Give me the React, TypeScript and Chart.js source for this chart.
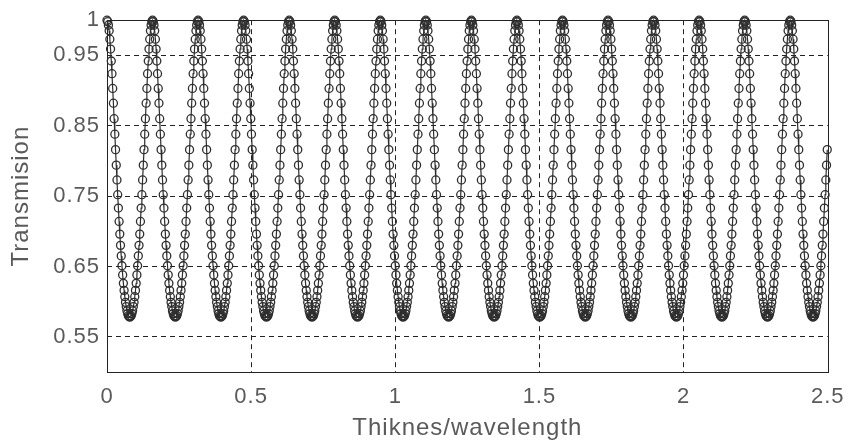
import React, { useEffect, useRef } from "react";
import { Chart, registerables } from "chart.js";

Chart.register(...registerables);

// Axis ticks
const X_TICKS = [0, 0.5, 1, 1.5, 2, 2.5];
const Y_TICKS = [0.55, 0.65, 0.75, 0.85, 0.95, 1];
const X_MIN = 0;
const X_MAX = 2.5;
const Y_MIN = 0.5;
const Y_MAX = 1;

// Fringe spacing read from the peak positions (16 peaks between 0 and 2.5)
const FRINGE_PERIOD = 0.158;
const SAMPLES_PER_PERIOD = 64;
// Transmission over one half fringe, from a peak (1.0) down to the trough (~0.578),
// read from the picture at 1/64-period steps; the second half of each fringe mirrors it.
const HALF_FRINGE_T = [
  1.0, 0.998, 0.993, 0.985, 0.973, 0.959, 0.942, 0.924, 0.903, 0.882, 0.86,
  0.838, 0.816, 0.794, 0.773, 0.752, 0.733, 0.714, 0.696, 0.68, 0.665, 0.651,
  0.638, 0.626, 0.616, 0.607, 0.599, 0.593, 0.587, 0.583, 0.58, 0.579, 0.578,
];

const X_TITLE = "Thiknes/wavelength";
const Y_TITLE = "Transmision";

function buildSeries() {
  const pts: { x: number; y: number }[] = [];
  for (let i = 0; ; i++) {
    const x = (i * FRINGE_PERIOD) / SAMPLES_PER_PERIOD;
    if (x > X_MAX + 1e-9) break;
    const k = i % SAMPLES_PER_PERIOD;
    const idx = k <= SAMPLES_PER_PERIOD / 2 ? k : SAMPLES_PER_PERIOD - k;
    pts.push({ x, y: HALF_FRINGE_T[idx] });
  }
  return pts;
}

const FONT = "'Liberation Sans', Arial, Helvetica, sans-serif";
const TEXT_COLOR = "#5a5a5a";
const LINE_COLOR = "#2e2e2e";
const AXIS_COLOR = "#222";

const spacingPlugin = {
  id: "spacing",
  beforeInit(chart: any) {
    try {
      chart.ctx.letterSpacing = "1px";
    } catch (e) {}
  },
  beforeDraw(chart: any) {
    try {
      chart.ctx.letterSpacing = "1px";
    } catch (e) {}
  },
};

const boxPlugin = {
  id: "box",
  beforeDatasetsDraw(chart: any) {
    const { ctx, chartArea } = chart;
    const { left, top, right, bottom } = chartArea;
    ctx.save();
    ctx.setLineDash([]);
    ctx.strokeStyle = AXIS_COLOR;
    ctx.lineWidth = 1;
    ctx.strokeRect(Math.round(left) + 0.5, Math.round(top) + 0.5, Math.round(right - left), Math.round(bottom - top));
    ctx.restore();
  },
};

export default function App() {
  const ref = useRef<HTMLCanvasElement | null>(null);

  useEffect(() => {
    if (!ref.current) return;
    const data = buildSeries();
    const chart = new Chart(ref.current, {
      type: "line",
      data: {
        datasets: [
          {
            data,
            borderColor: LINE_COLOR,
            borderWidth: 1.2,
            pointRadius: 4,
            pointBorderWidth: 1.3,
            pointBorderColor: LINE_COLOR,
            pointBackgroundColor: "rgba(0,0,0,0)",
            pointStyle: "circle",
            tension: 0,
            clip: false as any,
          },
        ],
      },
      options: {
        responsive: false,
        animation: false,
        devicePixelRatio: 1,
        layout: { padding: { left: 0, right: 25, top: 19, bottom: 0 } },
        plugins: { legend: { display: false }, tooltip: { enabled: false } },
        scales: {
          x: {
            type: "linear",
            min: X_MIN,
            max: X_MAX,
            afterBuildTicks: (s: any) => {
              s.ticks = X_TICKS.map((v) => ({ value: v }));
            },
            afterFit: (s: any) => {
              s.height = 68;
            },
            ticks: {
              font: { family: FONT, size: 22 },
              color: TEXT_COLOR,
              padding: 12,
              maxRotation: 0,
              autoSkip: false,
              callback: (v: any) => String(v),
            },
            grid: {
              color: (ctx: any) =>
                ctx.tick && (ctx.tick.value === X_MIN || ctx.tick.value === X_MAX) ? "rgba(0,0,0,0)" : AXIS_COLOR,
              lineWidth: 1,
              drawTicks: false,
            },
            border: { display: false, dash: [5, 4] },
            title: {
              display: true,
              text: X_TITLE,
              font: { family: FONT, size: 24, lineHeight: 1 },
              color: TEXT_COLOR,
              padding: { top: 3, bottom: 0 },
            },
          },
          y: {
            type: "linear",
            min: Y_MIN,
            max: Y_MAX,
            afterBuildTicks: (s: any) => {
              s.ticks = Y_TICKS.map((v) => ({ value: v }));
            },
            afterFit: (s: any) => {
              s.width = 107;
            },
            ticks: {
              font: { family: FONT, size: 22 },
              color: TEXT_COLOR,
              padding: 7,
              autoSkip: false,
              callback: (v: any) => String(v),
            },
            grid: {
              color: (ctx: any) =>
                ctx.tick && (ctx.tick.value === Y_MAX || ctx.tick.value === Y_MIN) ? "rgba(0,0,0,0)" : AXIS_COLOR,
              lineWidth: 1,
              drawTicks: false,
            },
            border: { display: false, dash: [5, 4] },
            title: {
              display: true,
              text: Y_TITLE,
              font: { family: FONT, size: 24 },
              color: TEXT_COLOR,
              padding: { top: 7, bottom: 0 },
            },
          },
        },
      } as any,
      plugins: [spacingPlugin, boxPlugin],
    });
    return () => chart.destroy();
  }, []);

  return (
    <div style={{ position: "fixed", left: 0, top: 0, width: 855, height: 440, background: "#fff" }}>
      <canvas ref={ref} width={855} height={440} style={{ width: 855, height: 440, display: "block" }} />
    </div>
  );
}
